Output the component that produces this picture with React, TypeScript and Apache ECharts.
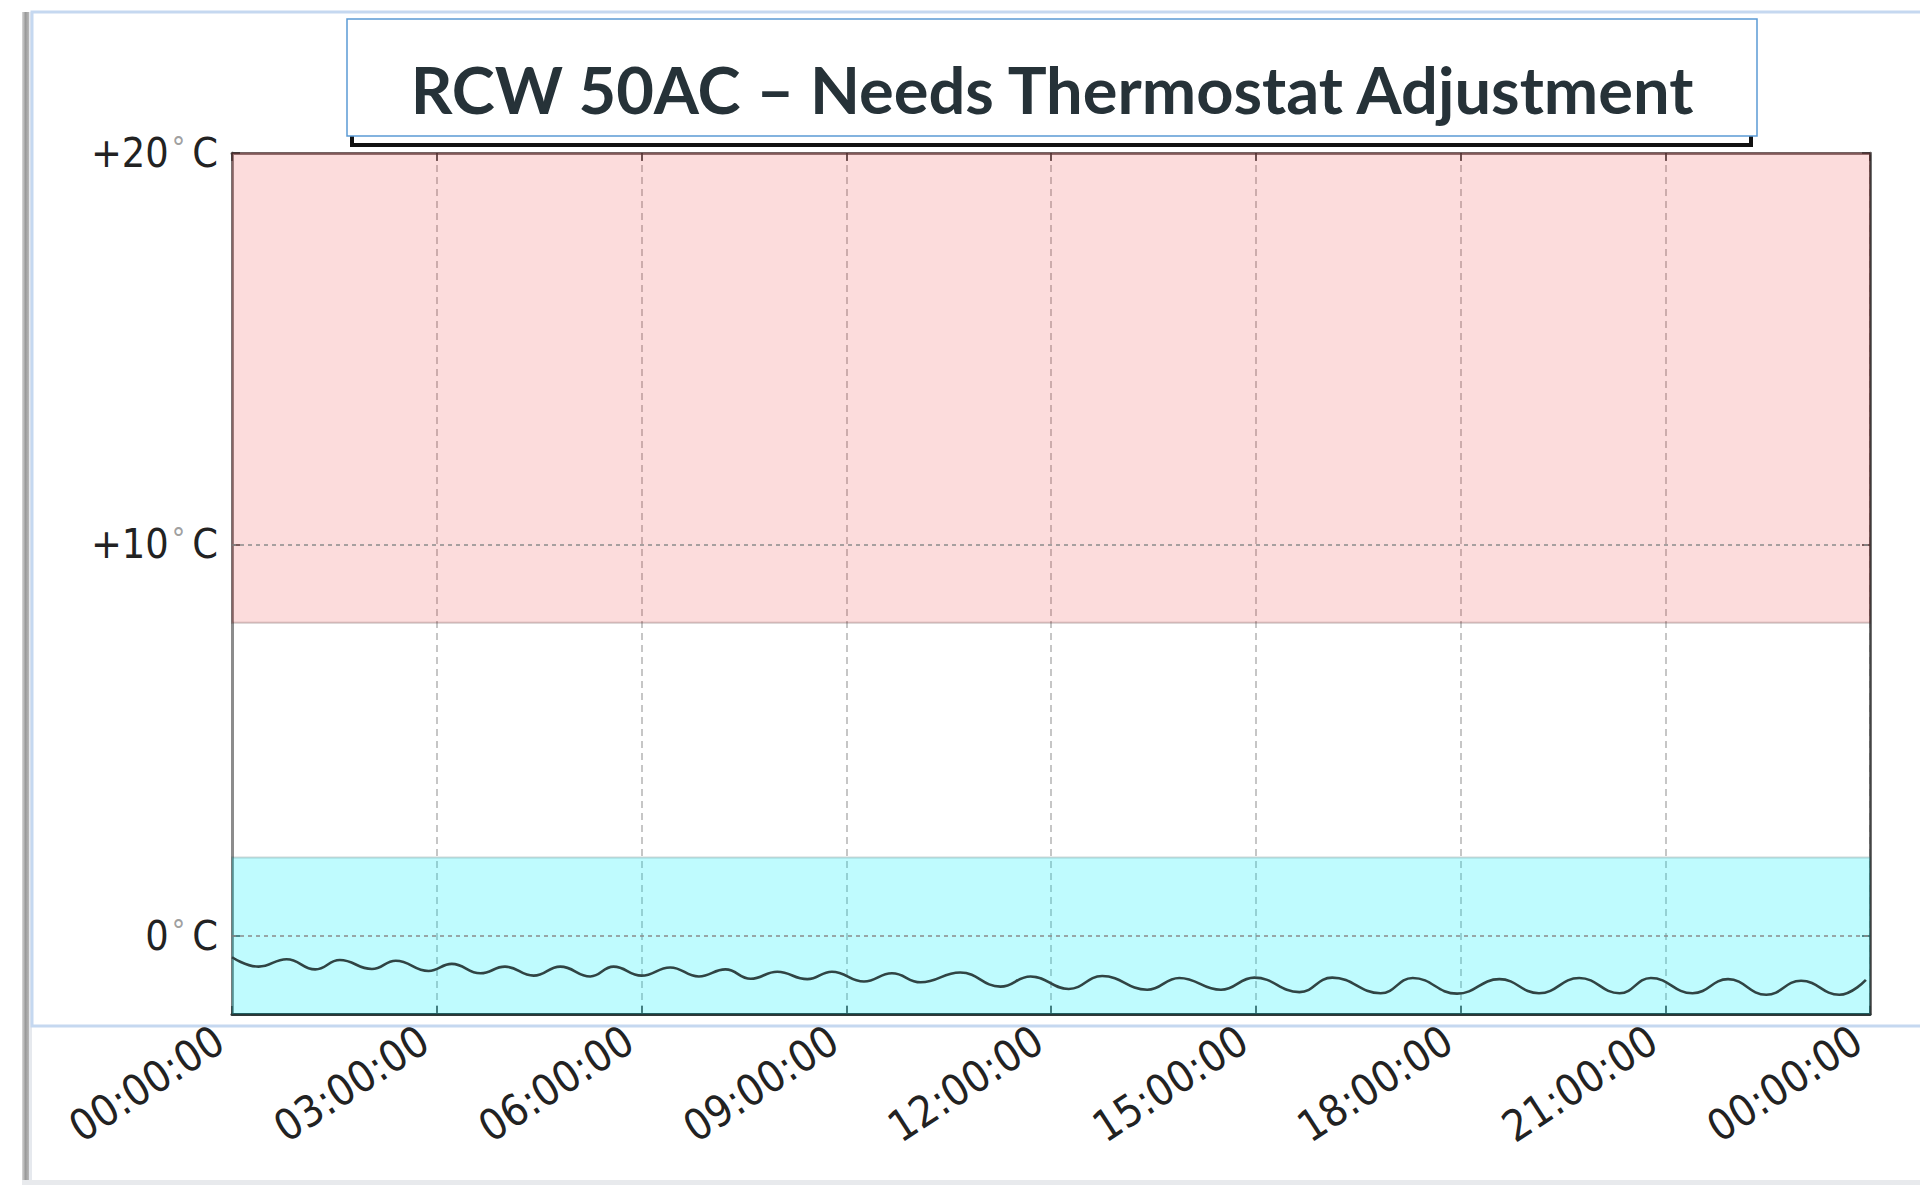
import React, { useEffect, useRef } from "react";
import * as echarts from "echarts";

const TITLE = "RCW 50AC – Needs Thermostat Adjustment";
const xTickLabels = ["00:00:00", "03:00:00", "06:00:00", "09:00:00", "12:00:00", "15:00:00", "18:00:00", "21:00:00", "00:00:00"];
const yTickValues = [0, 10, 20];
const yTickLabels = ["0", "+10", "+20"];
const hotBand = [8, 20];
const coldBand = [-2, 2];

const tempHours = [
  0.0, 0.39, 0.8, 1.22, 1.58, 2.05, 2.4, 2.88, 3.22, 3.64, 4.0, 4.42, 4.81, 5.25, 5.59, 6.0,
  6.42, 6.84, 7.23, 7.6, 7.99, 8.43, 8.79, 9.26, 9.67, 10.09, 10.67, 11.26, 11.7, 12.26,
  12.75, 13.41, 13.88, 14.49, 14.98, 15.64, 16.12, 16.83, 17.3, 17.95, 18.57, 19.15,
  19.74, 20.33, 20.79, 21.4, 21.92, 22.48, 22.99, 23.55, 23.94,
];
const tempValues = [
  -0.55, -0.79, -0.6, -0.86, -0.62, -0.85, -0.64, -0.9, -0.72, -0.96, -0.79, -1.02, -0.79, -1.04, -0.79, -1.02,
  -0.81, -1.04, -0.86, -1.1, -0.92, -1.11, -0.92, -1.17, -0.96, -1.19, -0.94, -1.3, -1.04, -1.36,
  -1.03, -1.38, -1.08, -1.38, -1.07, -1.44, -1.07, -1.47, -1.08, -1.48, -1.11, -1.47,
  -1.08, -1.47, -1.08, -1.47, -1.11, -1.51, -1.15, -1.51, -1.13,
];

const LABEL_FONT = '"DejaVu Sans Condensed", "DejaVu Sans", sans-serif';

export default function App() {
  const ref = useRef<HTMLDivElement>(null);
  useEffect(() => {
    document.body.style.margin = "0";
    if (!ref.current) return;
    const chart = echarts.init(ref.current, undefined, { renderer: "svg" });
    const tickStyle = { color: "#333", width: 1.5 };
    const option: any = {
      animation: false,
      backgroundColor: "#ffffff",
      grid: { left: 232, top: 153, right: 50, bottom: 171, containLabel: false },
      xAxis: [
        {
          type: "value",
          min: 0,
          max: 24,
          interval: 3,
          position: "bottom",
          axisLine: { show: true, onZero: false, lineStyle: { color: "#2e3838", width: 3 } },
          axisTick: { show: true, inside: true, length: 8, lineStyle: tickStyle },
          axisLabel: {
            show: true,
            rotate: 33,
            margin: 14,
            padding: [0, 15, 0, 0],
            fontFamily: LABEL_FONT,
            fontSize: 43,
            color: "#222",
            formatter: (v: number) => xTickLabels[Math.round(v / 3)],
          },
          splitLine: { show: true, lineStyle: { color: "#b4b4b4", width: 1.5, type: [7, 5] } },
        },
        {
          type: "value",
          min: 0,
          max: 24,
          interval: 3,
          position: "top",
          axisLine: { show: true, onZero: false, lineStyle: { color: "#847a7a", width: 3 } },
          axisTick: { show: true, inside: true, length: 8, lineStyle: tickStyle },
          axisLabel: { show: false },
          splitLine: { show: false },
        },
      ],
      yAxis: [
        {
          type: "value",
          min: -2,
          max: 20,
          position: "left",
          axisLine: { show: true, onZero: false, lineStyle: { color: "#8c8c8c", width: 3 } },
          axisTick: { show: true, inside: true, length: 8, customValues: yTickValues, lineStyle: tickStyle },
          axisLabel: {
            show: true,
            customValues: yTickValues,
            margin: 14,
            formatter: (v: number) => `{n|${yTickLabels[yTickValues.indexOf(v)]}}{d|°}{n|C}`,
            rich: {
              n: { fontFamily: LABEL_FONT, fontSize: 41, color: "#222" },
              d: { fontFamily: LABEL_FONT, fontSize: 30, color: "#a0a0a0", verticalAlign: "top", padding: [0, 7, 0, 3] },
            },
          },
          splitLine: { show: false },
        },
        {
          type: "value",
          min: -2,
          max: 20,
          position: "right",
          axisLine: { show: true, onZero: false, lineStyle: { color: "#444", width: 2.5 } },
          axisTick: { show: true, inside: true, length: 8, customValues: yTickValues, lineStyle: tickStyle },
          axisLabel: { show: false },
          splitLine: { show: false },
        },
      ],
      series: [
        {
          type: "line",
          data: [],
          z: 1,
          silent: true,
          markLine: {
            symbol: "none",
            silent: true,
            label: { show: false },
            lineStyle: { color: "#8a8a8a", width: 1.5, type: [4, 4] },
            data: yTickValues.filter((v) => v < 20).map((v) => ({ yAxis: v })),
          },
        },
        {
          type: "line",
          data: [],
          z: 2,
          silent: true,
          markArea: {
            silent: true,
            data: [
              [
                { yAxis: hotBand[0], itemStyle: { color: "rgba(235, 40, 40, 0.16)", borderColor: "rgba(60, 20, 20, 0.22)", borderWidth: 2 } },
                { yAxis: hotBand[1] },
              ],
              [
                { yAxis: coldBand[0], itemStyle: { color: "rgba(0, 240, 250, 0.25)", borderColor: "rgba(20, 60, 60, 0.2)", borderWidth: 2 } },
                { yAxis: coldBand[1] },
              ],
            ],
          },
        },
        {
          type: "line",
          z: 3,
          smooth: 0.45,
          symbol: "none",
          data: tempHours.map((h, i) => [h, tempValues[i]]),
          lineStyle: { color: "#304444", width: 2.6 },
        },
      ],
      graphic: [
        {
          type: "rect",
          shape: { x: 22, y: 12, width: 7, height: 1173 },
          style: {
            fill: new echarts.graphic.LinearGradient(0, 0, 1, 0, [
              { offset: 0, color: "#d8d8d8" },
              { offset: 0.5, color: "#9a9a9a" },
              { offset: 1, color: "#b8b8b8" },
            ]),
          },
        },
        { type: "rect", shape: { x: 29, y: 12, width: 3, height: 1173 }, style: { fill: "#e6e9ee" } },
        { type: "rect", shape: { x: 22, y: 1180, width: 1898, height: 5 }, style: { fill: "#e8eaed" } },
        {
          type: "rect",
          shape: { x: 32, y: 12, width: 1950, height: 1014 },
          style: { fill: "none", stroke: "#c5d8f0", lineWidth: 3 },
        },
        {
          type: "rect",
          shape: { x: 352, y: 40, width: 1399, height: 105 },
          style: { fill: "none", stroke: "#111", lineWidth: 4 },
        },
        {
          type: "rect",
          shape: { x: 347, y: 19, width: 1410, height: 117 },
          style: { fill: "#ffffff", stroke: "#5b9bd5", lineWidth: 1.5 },
        },
        {
          type: "text",
          x: 1052,
          y: 89,
          style: {
            text: TITLE,
            fontFamily: "Lato",
            fontWeight: "bold",
            fontSize: 65,
            fill: "#263238",
            align: "center",
            textAlign: "center",
            verticalAlign: "middle",
            textVerticalAlign: "middle",
          },
        },
      ],
    };
    chart.setOption(option);
    return () => chart.dispose();
  }, []);
  return <div ref={ref} style={{ width: 1920, height: 1185 }} />;
}
